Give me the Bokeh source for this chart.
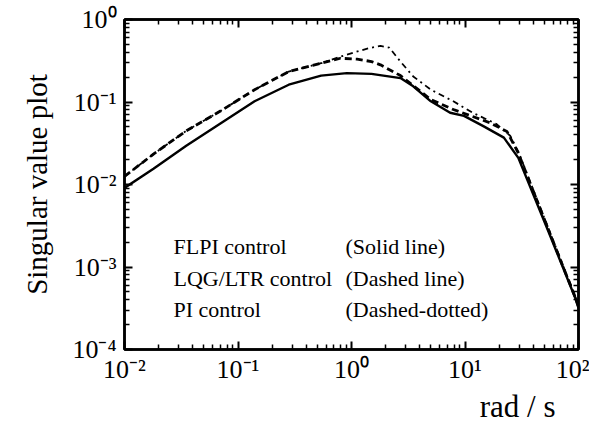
from bokeh.plotting import figure
from bokeh.models import Range1d, LogAxis, FixedTicker, CustomJSTickFormatter, Label, Title
from bokeh.embed import file_html
from bokeh.resources import INLINE

# ---- data ----
freq_flpi = [0.01, 0.018, 0.035, 0.07, 0.14, 0.28, 0.54, 0.91, 1.5, 2.7, 3.5, 5.0,
             7.4, 9.8, 14.5, 22, 29.5, 54, 93, 100]
sv_flpi = [0.0091, 0.0155, 0.0295, 0.055, 0.102, 0.162, 0.209, 0.224, 0.219, 0.195,
           0.155, 0.102, 0.074, 0.068, 0.051, 0.037, 0.021, 0.00275, 0.00043, 0.00032]

freq_lqg = [0.01, 0.018, 0.035, 0.07, 0.14, 0.28, 0.54, 0.8, 1.12, 1.5, 1.8, 2.7, 5.0,
            7.9, 11.2, 16.6, 23.4, 29.5, 54, 93, 100]
sv_lqg = [0.0125, 0.0234, 0.0447, 0.0776, 0.141, 0.234, 0.295, 0.339, 0.331, 0.309,
          0.282, 0.209, 0.107, 0.081, 0.068, 0.056, 0.044, 0.024, 0.0029, 0.00044, 0.00033]

freq_pi = [0.01, 0.018, 0.035, 0.07, 0.14, 0.28, 0.54, 0.8, 1.05, 1.4, 1.8, 2.15, 2.7,
           3.5, 5.0, 7.9, 11.7, 19, 25, 29.5, 54, 93, 100]
sv_pi = [0.0125, 0.0234, 0.0447, 0.0776, 0.141, 0.234, 0.295, 0.355, 0.398, 0.447,
         0.479, 0.457, 0.309, 0.204, 0.141, 0.102, 0.074, 0.054, 0.039, 0.025, 0.0030,
         0.00045, 0.00034]

x_ticks = [0.01, 0.1, 1, 10, 100]
x_tick_labels = ["10\u207b\u00b2", "10\u207b\u00b9", "10\u2070", "10\u00b9", "10\u00b2"]
y_ticks = [1e-4, 1e-3, 1e-2, 1e-1, 1]
y_tick_labels = ["10\u207b\u2074", "10\u207b\u00b3", "10\u207b\u00b2", "10\u207b\u00b9", "10\u2070"]

legend_names = ["FLPI control", "LQG/LTR control", "PI control"]
legend_styles = ["(Solid line)", "(Dashed line)", "(Dashed-dotted)"]
x_label = "rad / s"
y_label = "Singular value plot"

FONT = "Liberation Serif"


def minors(ticks):
    return [k * t for t in ticks[:-1] for k in range(2, 10)]


FMT_CODE = """
const i = tvals.findIndex(t => Math.abs(Math.log10(t) - Math.log10(tick)) < 1e-6);
return i >= 0 ? tlabels[i] : "";
"""

p = figure(width=589, height=423, x_axis_type="log", y_axis_type="log",
           x_range=Range1d(0.01, 100), y_range=Range1d(1e-4, 1),
           output_backend="svg", toolbar_location=None,
           min_border_left=124, min_border_right=11, min_border_top=19,
           min_border_bottom=70)
p.grid.visible = False
p.outline_line_color = "black"
p.outline_line_width = 2.5
p.background_fill_color = "white"
p.border_fill_color = "white"


def style(ax, ticks, labels, show):
    ax.ticker = FixedTicker(ticks=ticks, minor_ticks=minors(ticks))
    ax.major_tick_in = 8
    ax.major_tick_out = 0
    ax.minor_tick_in = 5
    ax.minor_tick_out = 0
    ax.major_tick_line_width = 2
    ax.minor_tick_line_width = 1.5
    ax.major_tick_line_color = "black"
    ax.minor_tick_line_color = "black"
    ax.axis_line_width = 2.5
    ax.axis_line_color = "black"
    ax.major_label_text_font = FONT
    ax.major_label_text_color = "black"
    if show:
        ax.major_label_text_font_size = "26px"
        ax.major_label_standoff = 8
        ax.formatter = CustomJSTickFormatter(args=dict(tvals=ticks, tlabels=labels), code=FMT_CODE)
    else:
        ax.major_label_text_font_size = "1px"
        ax.major_label_standoff = 0
        ax.formatter = CustomJSTickFormatter(code="return '';")


style(p.xaxis[0], x_ticks, x_tick_labels, True)
p.xaxis[0].major_label_standoff = 5
style(p.yaxis[0], y_ticks, y_tick_labels, True)
p.yaxis[0].axis_label = y_label
p.yaxis[0].axis_label_text_font = FONT
p.yaxis[0].axis_label_text_font_size = "29px"
p.yaxis[0].axis_label_text_font_style = "normal"
p.yaxis[0].axis_label_text_color = "black"
p.yaxis[0].axis_label_standoff = 16

top = LogAxis()
style(top, x_ticks, x_tick_labels, False)
p.add_layout(top, "above")
right = LogAxis()
style(right, y_ticks, y_tick_labels, False)
p.add_layout(right, "right")

# x-axis caption, right aligned under the axis
p.add_layout(Title(text=x_label, align="right", offset=23, standoff=0,
                   text_font=FONT, text_font_size="31px", text_font_style="normal",
                   text_color="black"), "below")

# curves
p.line(freq_pi, sv_pi, line_color="black", line_width=1.8, line_dash="6 4 2 4")
p.line(freq_lqg, sv_lqg, line_color="black", line_width=2.8, line_dash="7 4")
p.line(freq_flpi, sv_flpi, line_color="black", line_width=2.4)

# legend text
base_y = [103, 71, 40]
for name, sty, yy in zip(legend_names, legend_styles, base_y):
    p.add_layout(Label(x=49, y=yy, x_units="screen", y_units="screen", text=name,
                       text_font=FONT, text_font_size="22px", text_color="black",
                       text_baseline="alphabetic"))
    p.add_layout(Label(x=221, y=yy, x_units="screen", y_units="screen", text=sty,
                       text_font=FONT, text_font_size="22px", text_color="black",
                       text_baseline="alphabetic"))

open("out.html", "w").write(file_html(p, INLINE))
